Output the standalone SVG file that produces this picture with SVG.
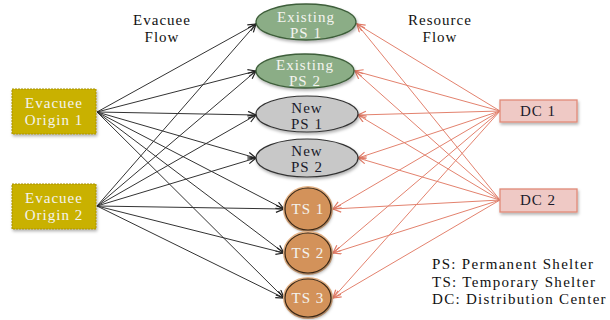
<svg xmlns="http://www.w3.org/2000/svg" width="610" height="320" viewBox="0 0 610 320" font-family="'Liberation Serif', 'Times New Roman', serif">
<defs>
<marker id="ab" markerWidth="10" markerHeight="10" refX="9" refY="4" orient="auto" markerUnits="userSpaceOnUse"><path d="M1,0.5 L9,4 L1,7.5" fill="none" stroke="#222" stroke-width="1.2"/></marker>
<marker id="ar" markerWidth="10" markerHeight="10" refX="9" refY="4" orient="auto" markerUnits="userSpaceOnUse"><path d="M1,0.5 L9,4 L1,7.5" fill="none" stroke="#e07a66" stroke-width="1.2"/></marker>
<filter id="sh" x="-20%" y="-20%" width="140%" height="150%"><feDropShadow dx="1" dy="2" stdDeviation="1.5" flood-color="#000" flood-opacity="0.3"/></filter>
</defs>
<style>
text{font-family:'Liberation Serif','Times New Roman',serif;font-size:15px;letter-spacing:1px;text-anchor:middle}
.blk line{stroke:#333;stroke-width:1;marker-end:url(#ab)}
.red line{stroke:#e3826e;stroke-width:1;marker-end:url(#ar)}
.org{fill:#c9b100;stroke:#a89200;stroke-width:1;stroke-dasharray:2 1}
.ps{fill:#8bad86;stroke:#3e5e3a;stroke-width:1.3}
.nps{fill:#c8c8c8;stroke:#333;stroke-width:1.2}
.ts{fill:#d3925a;stroke:#3a2714;stroke-width:1.2}
.tso{fill:none;stroke:#e6b488;stroke-width:2}
.dc{fill:#efc9c5;stroke:#e08a78;stroke-width:1.3}
.w{fill:#f4f4f0}
.d{fill:#1a1a2a}
.lg{text-anchor:start;fill:#111;letter-spacing:1.3px}
</style>
<g id="connectors">
<g class="blk">
<line x1="97" y1="112" x2="256" y2="24"/>
<line x1="97" y1="112" x2="256" y2="71"/>
<line x1="97" y1="112" x2="256" y2="115"/>
<line x1="97" y1="112" x2="256" y2="158"/>
<line x1="97" y1="112" x2="284" y2="209"/>
<line x1="97" y1="112" x2="284" y2="253"/>
<line x1="97" y1="112" x2="284" y2="298"/>
<line x1="97" y1="206" x2="256" y2="24"/>
<line x1="97" y1="206" x2="256" y2="71"/>
<line x1="97" y1="206" x2="256" y2="115"/>
<line x1="97" y1="206" x2="256" y2="158"/>
<line x1="97" y1="206" x2="284" y2="209"/>
<line x1="97" y1="206" x2="284" y2="253"/>
<line x1="97" y1="206" x2="284" y2="298"/>
</g>
<g class="red">
<line x1="500" y1="111" x2="357" y2="24"/>
<line x1="500" y1="111" x2="355" y2="71"/>
<line x1="500" y1="111" x2="358" y2="115"/>
<line x1="500" y1="111" x2="358" y2="158"/>
<line x1="500" y1="111" x2="333" y2="209"/>
<line x1="500" y1="111" x2="333" y2="253"/>
<line x1="500" y1="111" x2="333" y2="298"/>
<line x1="500" y1="200" x2="357" y2="24"/>
<line x1="500" y1="200" x2="355" y2="71"/>
<line x1="500" y1="200" x2="358" y2="115"/>
<line x1="500" y1="200" x2="358" y2="158"/>
<line x1="500" y1="200" x2="333" y2="209"/>
<line x1="500" y1="200" x2="333" y2="253"/>
<line x1="500" y1="200" x2="333" y2="298"/>
</g>
</g>
<g id="label-evacuee-flow"><text x="162" y="25" fill="#111">Evacuee</text><text x="162" y="42" fill="#111">Flow</text></g>
<g id="label-resource-flow"><text x="440" y="25" fill="#111">Resource</text><text x="440" y="42" fill="#111">Flow</text></g>
<g id="origin1"><rect class="org" x="12" y="89" width="84" height="45" filter="url(#sh)"/><text class="w" x="54" y="108">Evacuee</text><text class="w" x="54" y="125">Origin 1</text></g>
<g id="origin2"><rect class="org" x="12" y="184" width="84" height="45" filter="url(#sh)"/><text class="w" x="54" y="203">Evacuee</text><text class="w" x="54" y="220">Origin 2</text></g>
<g id="ps1"><ellipse class="ps" cx="306" cy="22" rx="50" ry="18" filter="url(#sh)"/><text class="w" x="306" y="22">Existing</text><text class="w" x="306" y="38">PS 1</text></g>
<g id="ps2"><ellipse class="ps" cx="305" cy="71" rx="49" ry="17" filter="url(#sh)"/><text class="w" x="305" y="70">Existing</text><text class="w" x="305" y="86">PS 2</text></g>
<g id="nps1"><ellipse class="nps" cx="307" cy="114" rx="51" ry="18" filter="url(#sh)"/><text class="d" x="307" y="113">New</text><text class="d" x="307" y="129">PS 1</text></g>
<g id="nps2"><ellipse class="nps" cx="307" cy="158" rx="51" ry="19" filter="url(#sh)"/><text class="d" x="307" y="156">New</text><text class="d" x="307" y="172">PS 2</text></g>
<g id="ts1"><ellipse class="tso" cx="308" cy="209" rx="24" ry="22"/><ellipse class="ts" cx="308" cy="209" rx="23" ry="21" filter="url(#sh)"/><text class="w" x="308" y="214">TS 1</text></g>
<g id="ts2"><ellipse class="tso" cx="308" cy="253" rx="24" ry="21"/><ellipse class="ts" cx="308" cy="253" rx="23" ry="20" filter="url(#sh)"/><text class="w" x="308" y="258">TS 2</text></g>
<g id="ts3"><ellipse class="tso" cx="308" cy="298" rx="24" ry="20"/><ellipse class="ts" cx="308" cy="298" rx="23" ry="19" filter="url(#sh)"/><text class="w" x="308" y="303">TS 3</text></g>
<g id="dc1"><rect class="dc" x="500" y="100" width="77" height="22" filter="url(#sh)"/><text class="d" x="538" y="116">DC 1</text></g>
<g id="dc2"><rect class="dc" x="500" y="189" width="77" height="23" filter="url(#sh)"/><text class="d" x="538" y="205">DC 2</text></g>
<g id="legend">
<text class="lg" x="432" y="269">PS: Permanent Shelter</text>
<text class="lg" x="432" y="287">TS: Temporary Shelter</text>
<text class="lg" x="432" y="304">DC: Distribution Center</text>
</g>
</svg>
